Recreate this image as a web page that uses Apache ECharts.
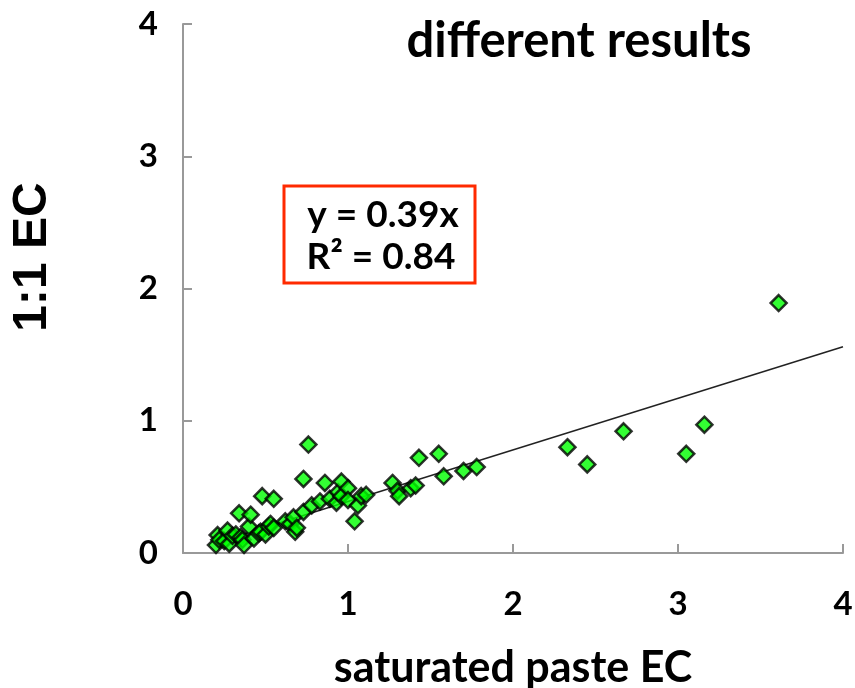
<!DOCTYPE html>
<html>
<head>
<meta charset="utf-8">
<script src="https://cdn.jsdelivr.net/npm/echarts@6/dist/echarts.min.js"></script>
<style>
html,body{margin:0;padding:0;background:#fff;}
#chart{width:855px;height:688px;}
</style>
</head>
<body>
<div id="chart"></div>
<script>
// Data
const pasteEC = [0.20,0.21,0.22,0.25,0.27,0.28,0.30,0.32,0.34,0.35,0.36,0.37,0.40,0.41,0.43,0.46,0.47,0.48,0.50,0.52,0.53,0.55,0.55,0.62,0.65,0.67,0.68,0.69,0.73,0.73,0.76,0.78,0.83,0.86,0.89,0.93,0.94,0.96,0.96,1.00,1.00,1.04,1.06,1.08,1.11,1.27,1.30,1.31,1.38,1.41,1.43,1.55,1.58,1.70,1.78,2.33,2.45,2.67,3.05,3.16,3.61];
const oneToOneEC = [0.06,0.136,0.10,0.09,0.17,0.07,0.13,0.14,0.30,0.12,0.10,0.06,0.20,0.29,0.11,0.15,0.16,0.43,0.14,0.20,0.22,0.41,0.19,0.24,0.22,0.27,0.16,0.19,0.31,0.56,0.82,0.36,0.39,0.53,0.41,0.38,0.46,0.54,0.43,0.49,0.40,0.24,0.36,0.43,0.44,0.53,0.47,0.43,0.49,0.51,0.72,0.75,0.58,0.62,0.65,0.80,0.67,0.92,0.75,0.97,1.89];
const trendX = [0.2, 4];
const trendY = [0.078, 1.56];
const xTicks = [0,1,2,3,4];
const yTicks = [0,1,2,3,4];
const titleText = 'different results';
const xName = 'saturated paste EC';
const yName = '1:1 EC';
const eqLines = ['y = 0.39x', 'R² = 0.84'];

const points = pasteEC.map((x,i)=>[x, oneToOneEC[i]]);
const trend = trendX.map((x,i)=>[x, trendY[i]]);

const chart = echarts.init(document.getElementById('chart'), null, {renderer:'canvas'});
const tickFont = {fontFamily:'Lato', fontWeight:'bold', fontSize:33, color:'#000'};
chart.setOption({
  animation:false,
  backgroundColor:'#fff',
  title:{
    text:titleText, left:574, top:12, textAlign:'center',
    textStyle:{fontFamily:'Lato', fontWeight:'bold', fontSize:49, color:'#000'}
  },
  grid:{left:183, right:12, top:24, bottom:135, containLabel:false, outerBoundsMode:'none'},
  xAxis:{
    type:'value', min:xTicks[0], max:xTicks[xTicks.length-1], interval:1,
    name:xName, nameLocation:'middle', nameGap:94,
    nameTextStyle:{fontFamily:'Lato', fontWeight:'bold', fontSize:43, color:'#000'},
    axisLine:{show:true, lineStyle:{color:'#999', width:2}},
    axisTick:{show:true, inside:true, length:9, lineStyle:{color:'#999', width:2}},
    axisLabel:{...tickFont, margin:35},
    splitLine:{show:false}
  },
  yAxis:{
    type:'value', min:yTicks[0], max:yTicks[yTicks.length-1], interval:1,
    axisLine:{show:true, lineStyle:{color:'#999', width:2}},
    axisTick:{show:true, inside:true, length:9, lineStyle:{color:'#999', width:2}},
    axisLabel:{...tickFont, margin:25},
    splitLine:{show:false}
  },
  series:[
    {
      type:'line', data:trend, symbol:'none',
      lineStyle:{color:'#222', width:1.5}, z:1
    },
    {
      type:'scatter', data:points, symbol:'diamond', symbolSize:[16,16],
      itemStyle:{color:'#00ff00', borderColor:'#000', borderWidth:2.5}, z:2
    }
  ],
  graphic:[
    {type:'text', x:33, y:257, rotation:Math.PI/2,
     style:{text:yName, fontFamily:'Liberation Sans', fontWeight:'bold', fontSize:48, fill:'#000', align:'center', verticalAlign:'middle'}},
    {type:'rect', shape:{x:284, y:186, width:191, height:97},
     style:{fill:'#fff', stroke:'#ff2a00', lineWidth:3}},
    {type:'text', x:383, y:215, style:{text:eqLines[0], fontFamily:'Lato', fontWeight:'bold', fontSize:37, fill:'#000', align:'center', verticalAlign:'middle'}},
    {type:'text', x:381, y:257, style:{text:eqLines[1], fontFamily:'Lato', fontWeight:'bold', fontSize:37, fill:'#000', align:'center', verticalAlign:'middle'}}
  ]
});
</script>
</body>
</html>
